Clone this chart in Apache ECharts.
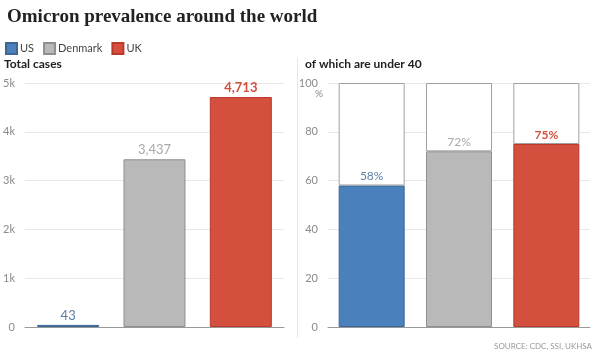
<!DOCTYPE html>
<html><head><meta charset="utf-8">
<script src="https://cdn.jsdelivr.net/npm/echarts@6/dist/echarts.min.js"></script>
<style>html,body{margin:0;padding:0;background:#fff}#c{width:600px;height:360px}</style>
</head><body><div id="c"></div>
<script>
const countries = ['US', 'Denmark', 'UK'];
const totalCases = [43, 3437, 4713];
const under40Pct = [58, 72, 75];
const leftTicks = [0, 1000, 2000, 3000, 4000, 5000];
const rightTicks = [0, 20, 40, 60, 80, 100];
const colors = ['#4a80bb', '#b9b9b9', '#d44f3d'];
const borders = ['#3d6694', '#8f8f8f', '#b83a2a'];
const labelColors = ['#5a7fa6', '#a8a8a8', '#d44f3d'];

const font = 'Lato, "Noto Sans", sans-serif';
function fmt(v){ return String(v).replace(/\B(?=(\d{3})+(?!\d))/g, ','); }
function only(arr, i){ return arr.map((v, j) => j === i ? v : '-'); }

const series = [];
countries.forEach((c, i) => {
  series.push({
    name: c, type: 'bar', xAxisIndex: 0, yAxisIndex: 0,
    data: only(totalCases, i), barWidth: 62, barGap: '-100%',
    itemStyle: { color: colors[i], borderColor: borders[i], borderWidth: 1 },
    label: { show: true, position: 'top', distance: 3, color: labelColors[i],
      fontFamily: font, fontSize: 13, fontWeight: i === 2 ? 'bold' : 'normal',
      formatter: p => fmt(p.value) }
  });
});
countries.forEach((c, i) => {
  series.push({
    name: c, type: 'bar', xAxisIndex: 1, yAxisIndex: 1, stack: 'p',
    data: only(under40Pct, i), barWidth: 66,
    itemStyle: { color: colors[i], borderColor: borders[i], borderWidth: 1 },
    label: { show: true, position: 'top', distance: 3, color: labelColors[i],
      fontFamily: font, fontSize: 12, fontWeight: i === 2 ? 'bold' : 'normal',
      formatter: p => p.value + '%' }
  });
});
series.push({
  name: 'rest', type: 'bar', xAxisIndex: 1, yAxisIndex: 1, stack: 'p',
  data: under40Pct.map(v => 100 - v), barWidth: 66,
  itemStyle: { color: '#ffffff', borderColor: '#a0a0a0', borderWidth: 1 },
  silent: true
});

const axisLabel = { color: '#8a8a8a', fontFamily: font, fontSize: 11, margin: 10 };
const splitLine = { show: true, lineStyle: { color: '#e8e8e8', width: 1 } };

const chart = echarts.init(document.getElementById('c'), null, { renderer: 'canvas' });
chart.setOption({
  animation: false,
  backgroundColor: '#fff',
  title: {
    text: 'Omicron prevalence around the world', left: 2, top: 3,
    textStyle: { fontFamily: '"Liberation Serif", "DejaVu Serif", serif', fontWeight: 'bold', fontSize: 19, color: '#222' }
  },
  legend: {
    data: countries, left: 0, top: 37, itemWidth: 11, itemHeight: 11, itemGap: 9,
    icon: 'rect', selectedMode: false,
    textStyle: { fontFamily: font, fontSize: 11, color: '#444', padding: [0, 0, 0, -2] }
  },
  grid: [
    { left: 24, right: 316, top: 83, bottom: 33 },
    { left: 328, right: 10, top: 83, bottom: 33 }
  ],
  xAxis: [
    { type: 'category', gridIndex: 0, data: countries, axisLabel: { show: false }, axisTick: { show: false },
      axisLine: { lineStyle: { color: '#999' } } },
    { type: 'category', gridIndex: 1, data: countries, axisLabel: { show: false }, axisTick: { show: false },
      axisLine: { lineStyle: { color: '#999' } } }
  ],
  yAxis: [
    { type: 'value', gridIndex: 0, min: leftTicks[0], max: leftTicks[leftTicks.length - 1], interval: 1000,
      axisLabel: Object.assign({}, axisLabel, { formatter: v => v === 0 ? '0' : (v / 1000) + 'k' }),
      splitLine, axisLine: { show: false }, axisTick: { show: false } },
    { type: 'value', gridIndex: 1, min: rightTicks[0], max: rightTicks[rightTicks.length - 1], interval: 20,
      axisLabel: axisLabel, splitLine, axisLine: { show: false }, axisTick: { show: false } }
  ],
  graphic: [
    { type: 'text', left: 4, top: 58, style: { text: 'Total cases', fontFamily: font, fontWeight: 'bold', fontSize: 12, fill: '#222' } },
    { type: 'text', left: 305, top: 58, style: { text: 'of which are under 40', fontFamily: font, fontWeight: 'bold', fontSize: 12, fill: '#222' } },
    { type: 'text', left: 315, top: 89, style: { text: '%', fontFamily: font, fontSize: 10, fill: '#8a8a8a' } },
    { type: 'line', shape: { x1: 297.5, y1: 58, x2: 297.5, y2: 338 }, style: { stroke: '#e6e6e6', lineWidth: 1 } },
    { type: 'text', right: 8, top: 342, style: { text: 'SOURCE: CDC, SSI, UKHSA', fontFamily: font, fontSize: 8, fill: '#999' } }
  ],
  series
});
</script></body></html>
